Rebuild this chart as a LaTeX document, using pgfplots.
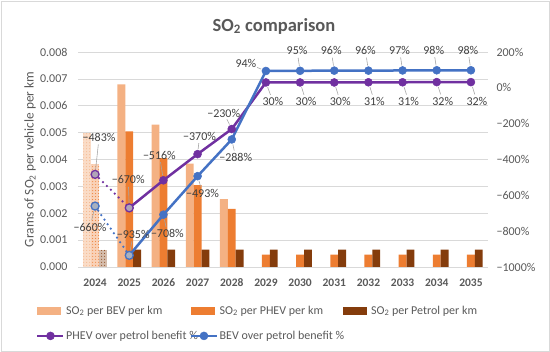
\documentclass[border=0pt]{standalone}
\usepackage{fontspec}
\setmainfont{Carlito}
\usepackage{pgfplots}
\pgfplotsset{compat=1.18}
\usetikzlibrary{patterns}
\definecolor{bevc}{HTML}{F4B183}
\definecolor{phevc}{HTML}{ED7D31}
\definecolor{petc}{HTML}{843C0C}
\definecolor{phl}{HTML}{7030A0}
\definecolor{bvl}{HTML}{4472C4}
\definecolor{txt}{HTML}{595959}
\definecolor{lab}{HTML}{404040}
\definecolor{gridc}{HTML}{D9D9D9}
\definecolor{framec}{HTML}{D9D9D9}
\newcommand{\fs}[1]{\fontsize{#1}{#1}\selectfont}
\pgfplotsset{
  linelegend/.style={legend image code/.code={\draw[mark repeat=2,mark phase=2,##1] plot coordinates {(0bp,0bp)(13bp,0bp)(26bp,0bp)};}},
  barlegend/.style={legend image code/.code={\fill[#1] (0bp,-3.5bp) rectangle (23bp,3.5bp); \path (26bp,0bp);}},
}
% data label: x, y, dx, dy, shorten-end, text
\newcommand{\dl}[6]{%
  \draw[gray!70, line width=0.6bp, shorten <=5bp, shorten >=#5bp] (axis cs:#1,#2) -- ++(#3bp,#4bp);
  \node[font=\fs{12bp}, text=lab, inner sep=0pt] at ([xshift=#3bp,yshift=#4bp]axis cs:#1,#2) {#6};
}
\begin{document}
\begin{tikzpicture}
\useasboundingbox (0,0) rectangle (550bp,352bp);
\draw[framec, line width=0.75bp] (1bp,1bp) rectangle (549bp,351bp);
\node[font=\fs{18.5bp}\bfseries, text=txt] at (274bp,326bp) {SO\textsubscript{2} comparison};

\begin{axis}[
  at={(78bp,85bp)}, anchor=south west,
  width=410bp, height=215bp, scale only axis,
  xmin=-0.5, xmax=11.5, ymin=0, ymax=0.008,
  axis x line*=bottom, axis y line*=left,
  x axis line style={draw=gridc, line width=0.75bp, -},
  y axis line style={draw=none},
  xtick={0,1,2,3,4,5,6,7,8,9,10,11},
  xticklabels={2024,2025,2026,2027,2028,2029,2030,2031,2032,2033,2034,2035},
  scaled y ticks=false,
  ytick={0,0.001,0.002,0.003,0.004,0.005,0.006,0.007,0.008},
  yticklabels={0.000,0.001,0.002,0.003,0.004,0.005,0.006,0.007,0.008},
  major tick length=0,
  ymajorgrids, grid style={draw=gridc, line width=0.75bp},
  yticklabel style={font=\fs{12bp}, text=txt, xshift=-7bp},
  xticklabel style={font=\fs{11.5bp}\bfseries, text=txt, yshift=-8bp},
  ylabel={Grams of SO\textsubscript{2} per vehicle per km},
  ylabel style={font=\fs{13.3bp}, text=txt, at={(axis description cs:-0.117,0.5)}, anchor=center},
]
% 2024 (patterned)
\addplot[ybar, bar width=0.23, bar shift=-0.23, draw=none, fill=bevc!45!white, postaction={pattern=dots, pattern color=bevc}] coordinates {(0,0.0050)};
\addplot[ybar, bar width=0.23, bar shift=0, draw=none, fill=phevc!35!white, postaction={pattern=dots, pattern color=phevc}] coordinates {(0,0.00383)};
\addplot[ybar, bar width=0.23, bar shift=0.23, draw=none, fill=petc!35!white, postaction={pattern=dots, pattern color=petc}] coordinates {(0,0.00065)};
% BEV
\addplot[ybar, bar width=0.23, bar shift=-0.23, draw=none, fill=bevc] coordinates {(1,0.0068)(2,0.0053)(3,0.00385)(4,0.00253)};
% PHEV
\addplot[ybar, bar width=0.23, bar shift=0, draw=none, fill=phevc] coordinates {(1,0.00505)(2,0.00405)(3,0.00305)(4,0.00216)(5,0.00046)(6,0.00046)(7,0.00046)(8,0.00046)(9,0.00046)(10,0.00046)(11,0.00046)};
% Petrol
\addplot[ybar, bar width=0.23, bar shift=0.23, draw=none, fill=petc] coordinates {(1,0.00065)(2,0.00065)(3,0.00065)(4,0.00065)(5,0.00065)(6,0.00065)(7,0.00065)(8,0.00065)(9,0.00065)(10,0.00065)(11,0.00065)};
\end{axis}

\begin{axis}[
  at={(78bp,85bp)}, anchor=south west,
  width=410bp, height=215bp, scale only axis,
  xmin=-0.5, xmax=11.5, ymin=-1000, ymax=200,
  axis x line=none, axis y line*=right,
  y axis line style={draw=none},
  ytick={-1000,-800,-600,-400,-200,0,200},
  yticklabels={−1000\%,−800\%,−600\%,−400\%,−200\%,0\%,200\%},
  major tick length=0,
  yticklabel style={font=\fs{12bp}, text=txt, xshift=5bp},
  clip=false,
  legend columns=3,
  legend cell align=left,
  legend style={at={(axis description cs:-0.1024,-0.172)}, anchor=north west,
    draw=none, fill=none, inner sep=0pt, column sep=0pt, row sep=12.5bp,
    font=\fs{12bp}, text=txt, nodes={inner sep=1.5bp}},
]
\addlegendimage{barlegend=bevc}
\addlegendentry{\makebox[122bp][l]{SO\textsubscript{2} per BEV per km}}
\addlegendimage{barlegend=phevc}
\addlegendentry{\makebox[122bp][l]{SO\textsubscript{2} per PHEV per km}}
\addlegendimage{barlegend=petc}
\addlegendentry{\makebox[122bp][l]{SO\textsubscript{2} per Petrol per km}}

% PHEV
\addplot[phl, line width=2.5bp, line cap=round, dash pattern=on 0pt off 5.5bp, forget plot] coordinates {(0,-483)(1,-670)};
\addplot[phl, line width=2.5bp, mark=*, mark size=4bp, mark options={solid, fill=phl, line width=0.5bp}, linelegend]
  coordinates {(1,-670)(2,-516)(3,-370)(4,-230)(5,30)(6,30)(7,30)(8,31)(9,31)(10,32)(11,32)};
\addlegendentry{\makebox[122bp][l]{PHEV over petrol benefit \%}}
% BEV
\addplot[bvl, line width=2.5bp, line cap=round, dash pattern=on 0pt off 5.5bp, forget plot] coordinates {(0,-660)(1,-935)};
\addplot[bvl, line width=2.5bp, mark=*, mark size=4bp, mark options={solid, fill=bvl, line width=0.5bp}, linelegend]
  coordinates {(1,-935)(2,-708)(3,-493)(4,-288)(5,94)(6,95)(7,96)(8,96)(9,97)(10,98)(11,98)};
\addlegendentry{\makebox[122bp][l]{BEV over petrol benefit \%}}
% light markers 2024/2025
\addplot[only marks, mark=*, mark size=4bp, mark options={draw=phl, fill=phl!30!gray!60, line width=1.3bp}, forget plot] coordinates {(0,-483)(1,-670)};
\addplot[only marks, mark=*, mark size=4bp, mark options={draw=bvl, fill=bvl!30!gray!60, line width=1.3bp}, forget plot] coordinates {(0,-660)(1,-935)};

% data labels PHEV
\dl{0}{-483}{4}{37}{7}{−483\%}
\dl{1}{-670}{-1}{28}{7}{−670\%}
\dl{2}{-516}{-4}{25}{7}{−516\%}
\dl{3}{-370}{2}{18}{7}{−370\%}
\dl{4}{-230}{-8}{16}{7}{−230\%}
\dl{5}{30}{7}{-19}{7}{30\%}
\dl{6}{30}{6}{-19}{7}{30\%}
\dl{7}{30}{6}{-19}{7}{30\%}
\dl{8}{31}{6}{-19}{7}{31\%}
\dl{9}{31}{6}{-19}{7}{31\%}
\dl{10}{32}{6}{-19}{7}{32\%}
\dl{11}{32}{6}{-19}{7}{32\%}
% data labels BEV
\dl{0}{-660}{-5}{-21}{7}{−660\%}
\dl{1}{-935}{4}{21}{7}{−935\%}
\dl{2}{-708}{4}{-19}{7}{−708\%}
\dl{3}{-493}{5}{-17}{7}{−493\%}
\dl{4}{-288}{4}{-18}{7}{−288\%}
\dl{5}{94}{-20}{8}{12}{94\%}
\dl{6}{95}{-3}{20}{7}{95\%}
\dl{7}{96}{-3}{20}{7}{96\%}
\dl{8}{96}{-3}{20}{7}{96\%}
\dl{9}{97}{-3}{20}{7}{97\%}
\dl{10}{98}{-3}{20}{7}{98\%}
\dl{11}{98}{-3}{20}{7}{98\%}
\end{axis}
\end{tikzpicture}
\end{document}
